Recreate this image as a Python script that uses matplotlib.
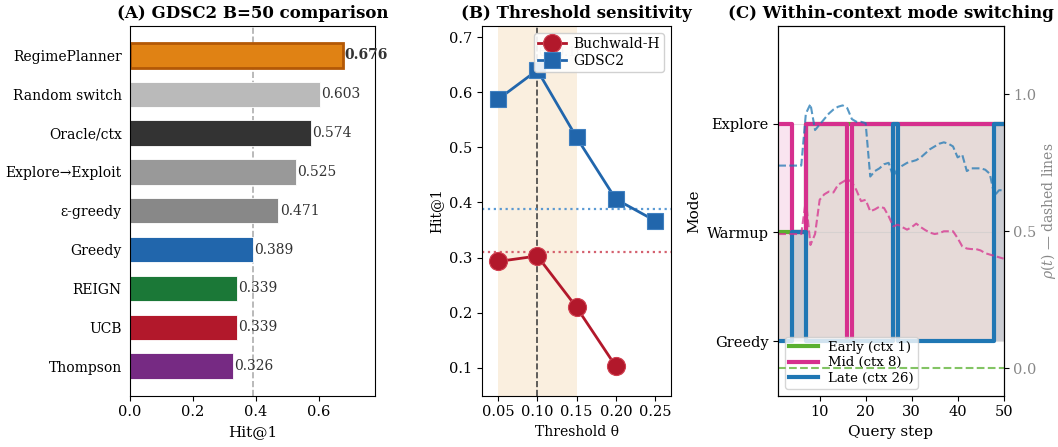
import matplotlib
matplotlib.use('Agg')
import matplotlib.pyplot as plt
import numpy as np

plt.rcParams['font.family'] = 'DejaVu Serif'
plt.rcParams['mathtext.fontset'] = 'dejavuserif'

#----------------------------
#          DATA
#----------------------------
# (A) GDSC2 B=50 comparison
methods = ['RegimePlanner', 'Random switch', 'Oracle/ctx', 'Explore\u2192Exploit',
           '\u03b5-greedy', 'Greedy', 'REIGN', 'UCB', 'Thompson']
hit1 = [0.676, 0.603, 0.574, 0.525, 0.471, 0.389, 0.339, 0.339, 0.326]
bar_colors = ['#e08214', '#bababa', '#333333', '#999999', '#888888',
              '#2166ac', '#1b7837', '#b2182b', '#762a83']
greedy_ref = 0.389

# (B) threshold sensitivity
theta = [0.05, 0.10, 0.15, 0.20, 0.25]
buchwald = [0.293, 0.303, 0.210, 0.103, np.nan]
gdsc2 = [0.587, 0.640, 0.518, 0.406, 0.367]
buchwald_base = 0.311
gdsc2_base = 0.389
theta_best = 0.10

# (C) within-context mode switching  (0=Greedy, 1=Warmup, 2=Explore)
steps = list(range(1, 51))
mode_names = ['Greedy', 'Warmup', 'Explore']
mode_early = [1]*6 + [2]*44
mode_mid = [2]*3 + [1]*3 + [2]*9 + [0] + [2]*34
mode_late = [0]*3 + [1]*3 + [0]*19 + [2] + [0]*21 + [2]*3
rho_early = [0.0]*50
rho_mid = [0.49, 0.49, 0.49, 0.49, 0.49, 0.49, 0.615, 0.45, 0.49, 0.615,
           0.635, 0.645, 0.642, 0.67, 0.68, 0.69, 0.68, 0.65, 0.61, 0.615,
           0.573, 0.58, 0.59, 0.585, 0.555, 0.518, 0.524, 0.515, 0.506, 0.515,
           0.528, 0.515, 0.504, 0.495, 0.49, 0.493, 0.50, 0.50, 0.50, 0.475,
           0.445, 0.437, 0.435, 0.435, 0.43, 0.42, 0.415, 0.41, 0.405, 0.40]
rho_late = [0.74, 0.74, 0.74, 0.74, 0.74, 0.74, 0.93, 0.965, 0.87, 0.89,
            0.91, 0.93, 0.945, 0.955, 0.96, 0.95, 0.91, 0.90, 0.90, 0.895,
            0.70, 0.72, 0.73, 0.745, 0.75, 0.70, 0.73, 0.74, 0.75, 0.755,
            0.76, 0.77, 0.785, 0.80, 0.81, 0.82, 0.825, 0.82, 0.81, 0.77,
            0.78, 0.72, 0.73, 0.73, 0.73, 0.725, 0.71, 0.63, 0.65, 0.65]
ctx_labels = ['Early (ctx 1)', 'Mid (ctx 8)', 'Late (ctx 26)']
ctx_colors = ['#5ab030', '#d6308e', '#1f77b4']

#----------------------------
#          FIGURE
#----------------------------
fig = plt.figure(figsize=(10.58, 4.47), dpi=100)
axA = fig.add_axes([0.1229, 0.1152, 0.2316, 0.8266])
axB = fig.add_axes([0.4559, 0.1152, 0.1781, 0.8266])
axC = fig.add_axes([0.7356, 0.1152, 0.2130, 0.8266])

# =========================
#   (A) bar comparison
# =========================
ypos = np.arange(len(methods))
bars = axA.barh(ypos, hit1, height=0.65, color=bar_colors, edgecolor='white', linewidth=0.6)
bars[0].set_edgecolor('#b35806')
bars[0].set_linewidth(2)
axA.axvline(greedy_ref, color='#999999', ls='--', lw=1.2, alpha=0.8, zorder=0)
for k in range(len(methods)):
    axA.text(hit1[k] + 0.004, ypos[k], '%.3f' % hit1[k], va='center', ha='left',
             fontsize=10, color='#333333', fontweight='bold' if k == 0 else 'normal')
axA.set_yticks(ypos)
axA.set_yticklabels(methods, fontsize=10)
axA.invert_yaxis()
axA.set_xlim(0, max(hit1)*1.15)
axA.set_xticks([0.0, 0.2, 0.4, 0.6])
axA.tick_params(axis='x', labelsize=10.5)
axA.tick_params(axis='y', length=0, pad=6)
axA.set_xlabel('Hit@1', fontsize=11)
axA.set_title('(A) GDSC2 B=50 comparison', fontsize=12, fontweight='bold')

# =========================
#   (B) threshold sensitivity
# =========================
axB.axvspan(0.05, 0.15, color='#f4d9b5', alpha=0.42, lw=0, zorder=0)
axB.axvline(theta_best, color='#444444', ls='--', lw=1.2, zorder=1)
axB.text(theta_best + 0.002, 0.672, '\u03b8=0.10', fontsize=9, color='#999999', ha='left', va='center')
axB.axhline(gdsc2_base, color='#4a90d0', ls=':', lw=1.6, alpha=0.9)
axB.axhline(buchwald_base, color='#d0505f', ls=':', lw=1.6, alpha=0.9)
axB.plot(theta, buchwald, '-o', color='#b2182b', lw=2, ms=13, mec='#d04050', mew=0.8, label='Buchwald-H', zorder=3)
axB.plot(theta, gdsc2, '-s', color='#2166ac', lw=2, ms=12, mec='#4080c0', mew=0.8, label='GDSC2', zorder=3)
axB.set_xlim(0.03, 0.27)
axB.set_ylim(0.05, 0.72)
axB.set_xticks(theta)
axB.set_xticklabels(['%.2f' % t for t in theta])
axB.set_yticks([0.1, 0.2, 0.3, 0.4, 0.5, 0.6, 0.7])
axB.tick_params(labelsize=10.5)
axB.set_xlabel('Threshold \u03b8', fontsize=10)
axB.set_ylabel('Hit@1', fontsize=10)
axB.legend(loc='upper right', fontsize=10, framealpha=0.9, borderpad=0.3, handlelength=2.0,
           labelspacing=0.2, handletextpad=0.5)
axB.set_title('(B) Threshold sensitivity', fontsize=12, fontweight='bold')

# =========================
#   (C) mode switching
# =========================
axR = axC.twinx()
modes = [mode_early, mode_mid, mode_late]
rhos = [rho_early, rho_mid, rho_late]
for k in range(3):
    axC.fill_between(steps, 0, modes[k], step='post', color=ctx_colors[k], alpha=0.13, lw=0)
    axC.step(steps, modes[k], where='post', color=ctx_colors[k], lw=3, label=ctx_labels[k], zorder=3+k)
    axR.plot(steps, rhos[k], '--', color=ctx_colors[k], lw=1.5, alpha=0.75)
axC.set_xlim(1, 50)
axC.set_ylim(-0.5, 2.9)
axC.set_yticks([0, 1, 2])
axC.set_yticklabels(mode_names, fontsize=10.5)
axC.grid(axis='y', color='#cccccc', lw=0.8, alpha=0.6)
axC.set_xticks([10, 20, 30, 40, 50])
axC.tick_params(axis='x', labelsize=10.5)
axC.set_xlabel('Query step', fontsize=11)
axC.set_ylabel('Mode', fontsize=11)
axC.legend(loc='lower left', fontsize=9.5, framealpha=0.8, borderpad=0.3, handlelength=2.2,
           labelspacing=0.2, bbox_to_anchor=(0.0, 0.0))
axR.set_ylim(-0.1, 1.25)
axR.set_yticks([0.0, 0.5, 1.0])
axR.tick_params(axis='y', labelsize=10.5, labelcolor='#888888')
axR.set_ylabel('$\\rho(t)$ \u2014 dashed lines', fontsize=10, color='#888888', labelpad=2)
axC.set_title('(C) Within-context mode switching', fontsize=12, fontweight='bold')

plt.savefig('out.png', dpi=100)
